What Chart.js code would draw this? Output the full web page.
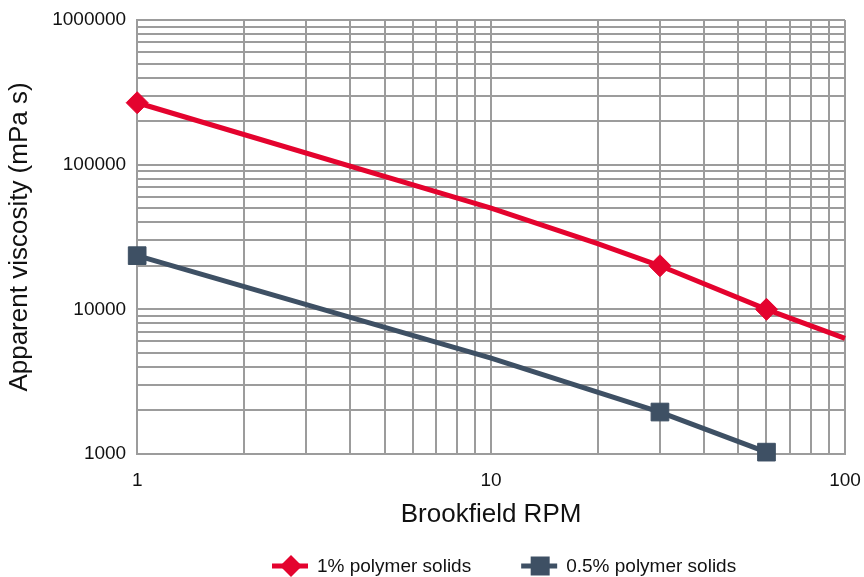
<!DOCTYPE html>
<html>
<head>
<meta charset="utf-8">
<script src="https://cdn.jsdelivr.net/npm/chart.js@4"></script>
<style>
  html, body { margin: 0; padding: 0; background: #fff; }
  #wrap { width: 864px; height: 577px; }
</style>
</head>
<body>
<div id="wrap"><canvas id="myChart" width="864" height="577"></canvas></div>
<script>
// data (log-log)
var rpm1 = [1, 10, 20, 30, 60, 100];
var visc1 = [268000, 50000, 28500, 20000, 10000, 6300];
var marker1 = [true, false, false, true, true, false];

var rpm2 = [1, 10, 30, 60];
var visc2 = [23500, 4600, 1950, 1030];
var marker2 = [true, false, true, true];

var seriesNames = ["1% polymer solids", "0.5% polymer solids"];
var xGrid = [1, 2, 3, 4, 5, 6, 7, 8, 9, 10, 20, 30, 40, 50, 60, 70, 80, 90, 100];
var yGrid = [1000, 2000, 3000, 4000, 5000, 6000, 7000, 8000, 9000,
  10000, 20000, 30000, 40000, 50000, 60000, 70000, 80000, 90000,
  100000, 200000, 300000, 400000, 500000, 600000, 700000, 800000, 900000, 1000000];
var xLabels = [1, 10, 100];
var yLabels = [1000, 10000, 100000, 1000000];

var RED = "#e4032e";
var SLATE = "#3e5064";
var GRID = "#9c9c9c";
var FONT = '"Liberation Sans", Arial, Helvetica, sans-serif';

function toPoints(xs, ys) {
  var pts = [];
  for (var i = 0; i < xs.length; i++) pts.push({ x: xs[i], y: ys[i] });
  return pts;
}

// legend drawn as line + marker, like the original
var lineLegend = {
  id: "lineLegend",
  afterDraw: function (chart) {
    var ctx = chart.ctx;
    ctx.save();
    ctx.font = "19px " + FONT;
    ctx.textBaseline = "middle";
    var x = 272;
    var y = 566;
    chart.data.datasets.forEach(function (ds) {
      ctx.strokeStyle = ds.borderColor;
      ctx.fillStyle = ds.borderColor;
      ctx.lineWidth = 5;
      ctx.beginPath();
      ctx.moveTo(x, y);
      ctx.lineTo(x + 36, y);
      ctx.stroke();
      var cx = x + 19;
      ctx.beginPath();
      if (ds.pointStyle === "rectRot") {
        ctx.moveTo(cx - 11, y);
        ctx.lineTo(cx, y - 11);
        ctx.lineTo(cx + 11, y);
        ctx.lineTo(cx, y + 11);
        ctx.closePath();
      } else {
        ctx.rect(cx - 9.5, y - 9.5, 19, 19);
      }
      ctx.fill();
      ctx.fillStyle = "#111";
      ctx.fillText(ds.label, x + 45, y + 1);
      x += 45 + ctx.measureText(ds.label).width + 50;
    });
    ctx.restore();
  },
};

var ctx = document.getElementById("myChart").getContext("2d");
var chart = new Chart(ctx, {
  type: "line",
  data: {
    datasets: [
      {
        label: seriesNames[0],
        data: toPoints(rpm1, visc1),
        borderColor: RED,
        backgroundColor: RED,
        borderWidth: 5,
        pointStyle: "rectRot",
        pointRadius: marker1.map(function (m) { return m ? 11 : 0; }),
        pointBorderWidth: 1,
        pointHoverRadius: 0,
        tension: 0,
        clip: false,
      },
      {
        label: seriesNames[1],
        data: toPoints(rpm2, visc2),
        borderColor: SLATE,
        backgroundColor: SLATE,
        borderWidth: 5,
        pointStyle: "rect",
        pointRadius: marker2.map(function (m) { return m ? 12.5 : 0; }),
        pointBorderWidth: 1,
        pointHoverRadius: 0,
        tension: 0,
        clip: false,
      },
    ],
  },
  options: {
    responsive: false,
    animation: false,
    events: [],
    layout: { padding: { top: 0, right: 0, bottom: 47, left: 0 } },
    plugins: {
      legend: { display: false },
      tooltip: { enabled: false },
    },
    scales: {
      x: {
        type: "logarithmic",
        min: 1,
        max: 100,
        afterBuildTicks: function (axis) {
          axis.ticks = xGrid.map(function (v) { return { value: v }; });
        },
        afterFit: function (axis) {
          axis.paddingRight = 19;
        },
        ticks: {
          autoSkip: false,
          maxRotation: 0,
          padding: 15,
          color: "#111",
          font: { family: FONT, size: 19 },
          callback: function (v) { return xLabels.indexOf(v) >= 0 ? String(v) : ""; },
        },
        grid: { color: GRID, lineWidth: 2, drawTicks: false },
        border: { color: GRID, width: 2 },
        title: {
          display: true,
          text: "Brookfield RPM",
          color: "#111",
          font: { family: FONT, size: 26 },
          padding: { top: -8, bottom: 0 },
        },
      },
      y: {
        type: "logarithmic",
        min: 1000,
        max: 1000000,
        afterBuildTicks: function (axis) {
          axis.ticks = yGrid.map(function (v) { return { value: v }; });
        },
        afterFit: function (axis) {
          axis.paddingTop = 20;
        },
        ticks: {
          autoSkip: false,
          padding: 11,
          color: "#111",
          font: { family: FONT, size: 19 },
          callback: function (v) { return yLabels.indexOf(v) >= 0 ? String(v) : ""; },
        },
        grid: { color: GRID, lineWidth: 2, drawTicks: false },
        border: { color: GRID, width: 2 },
        title: {
          display: true,
          text: "Apparent viscosity (mPa s)",
          color: "#111",
          font: { family: FONT, size: 26 },
          padding: { top: 4, bottom: 6 },
        },
      },
    },
  },
  plugins: [lineLegend],
});
</script>
</body>
</html>
